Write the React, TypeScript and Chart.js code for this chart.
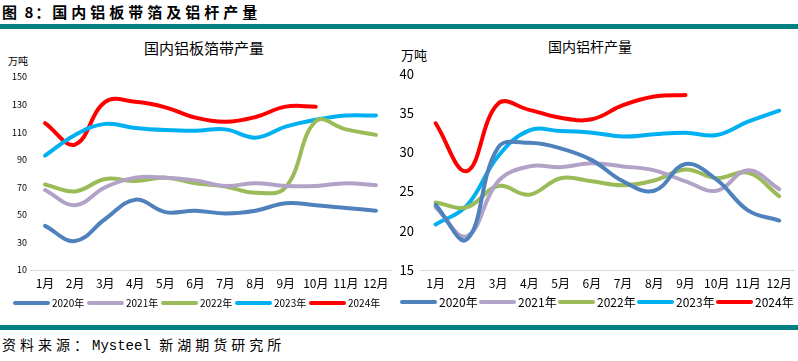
import React, { useEffect, useRef } from "react";
import { Chart, registerables } from "chart.js";

Chart.register(...registerables);

const months = ["1月", "2月", "3月", "4月", "5月", "6月", "7月", "8月", "9月", "10月", "11月", "12月"];
const seriesNames = ["2020年", "2021年", "2022年", "2023年", "2024年"];
const seriesColors = ["#4F81BD", "#B3A2C7", "#9BBB59", "#00B0F0", "#FF0000"];

// 国内铝板箔带产量 (万吨)
const sheet2020 = [42, 31, 47, 61, 52, 53, 51, 53, 58.5, 57, 55, 53];
const sheet2021 = [68, 57, 70, 77, 77, 75, 71, 73, 71, 71, 73, 71.5];
const sheet2022 = [72, 67, 76, 74.5, 77, 73, 70.5, 66, 70, 118, 112, 108];
const sheet2023 = [93, 108, 116, 113, 111.5, 111, 112, 106, 114, 119, 122, 122];
const sheet2024 = [116.5, 101, 132, 132, 128, 120.5, 117.5, 121, 128.5, 128.5, null, null];

// 国内铝杆产量 (万吨)
const rod2020 = [23.3, 18.9, 30.6, 31.2, 30.5, 29, 26.3, 25.1, 28.5, 26.5, 22.6, 21.3];
const rod2021 = [23, 19.3, 26.3, 28.2, 28.1, 28.6, 28.2, 27.7, 26.3, 25.1, 27.7, 25.3];
const rod2022 = [23.6, 23, 25.7, 24.6, 26.7, 26.3, 25.8, 26.4, 27.8, 26.7, 27.4, 24.4];
const rod2023 = [20.8, 23.2, 29.5, 32.8, 32.7, 32.5, 32, 32.3, 32.5, 32.2, 33.9, 35.3];
const rod2024 = [33.7, 27.6, 36.2, 35.4, 34.4, 34.2, 36, 37.1, 37.3, null, null, null];

const sheetSeries = [sheet2020, sheet2021, sheet2022, sheet2023, sheet2024];
const rodSeries = [rod2020, rod2021, rod2022, rod2023, rod2024];

const cjk = '"Noto Sans CJK SC", "Noto Sans", sans-serif';

type Cfg = {
  series: (number | null)[][];
  min: number;
  max: number;
  step: number;
  yWidth: number;
  tickFont: number;
  tickPad: number;
  padTop: number;
  padRight: number;
  xFont: number;
};

function LineChart({ cfg, width, height }: { cfg: Cfg; width: number; height: number }) {
  const ref = useRef<HTMLCanvasElement | null>(null);
  useEffect(() => {
    if (!ref.current) return;
    const chart = new Chart(ref.current, {
      type: "line",
      data: {
        labels: months,
        datasets: cfg.series.map((d, i) => ({
          label: seriesNames[i],
          data: d,
          borderColor: seriesColors[i],
          backgroundColor: seriesColors[i],
          borderWidth: 4,
          pointRadius: 0,
          tension: 0.4,
          spanGaps: false,
          borderCapStyle: "round" as const,
        })),
      },
      options: {
        animation: false,
        responsive: false,
        maintainAspectRatio: false,
        layout: { padding: { top: cfg.padTop, right: cfg.padRight, left: 0, bottom: 0 } },
        plugins: { legend: { display: false }, title: { display: false }, tooltip: { enabled: false } },
        scales: {
          x: {
            offset: true,
            grid: { display: false, drawTicks: false },
            border: { display: true, color: "#D9D9D9", width: 1 },
            ticks: { color: "#000", font: { family: cjk, size: cfg.xFont }, padding: 6, maxRotation: 0, autoSkip: false },
            afterFit: (s: any) => { s.height = 30; },
          },
          y: {
            min: cfg.min,
            max: cfg.max,
            grid: { display: false, drawTicks: false },
            border: { display: false },
            ticks: {
              stepSize: cfg.step,
              color: "#000",
              font: { family: cjk, size: cfg.tickFont },
              padding: cfg.tickPad,
            },
            afterFit: (s: any) => { s.width = cfg.yWidth; },
          },
        },
      },
    });
    return () => chart.destroy();
  }, []);
  return <canvas ref={ref} width={width} height={height} style={{ width, height, display: "block" }} />;
}

function Legend({ left, top, lineW, gap, font, pitch }: { left: number; top: number; lineW: number; gap: number; font: number; pitch: number }) {
  return (
    <div style={{ position: "absolute", left, top, height: 14 }}>
      {seriesNames.map((n, i) => (
        <div key={n} style={{ position: "absolute", left: i * pitch, top: 0, display: "flex", alignItems: "center", whiteSpace: "nowrap" }}>
          <div style={{ width: lineW, height: 4, borderRadius: 2, background: seriesColors[i] }} />
          <span style={{ marginLeft: gap, fontFamily: cjk, fontSize: font, color: "#000", lineHeight: "14px" }}>{n}</span>
        </div>
      ))}
    </div>
  );
}

export default function App() {
  const sheetCfg: Cfg = { series: sheetSeries, min: 10, max: 150, step: 20, yWidth: 30, tickFont: 9, tickPad: 3, padTop: 17, padRight: 4, xFont: 12 };
  const rodCfg: Cfg = { series: rodSeries, min: 15, max: 40, step: 5, yWidth: 25, tickFont: 13, tickPad: 6, padTop: 8, padRight: 3, xFont: 12 };
  return (
    <div style={{ position: "absolute", left: 0, top: 0, width: 798, height: 361, background: "#fff", overflow: "hidden" }}>
      <div style={{ position: "absolute", left: 2, top: 2, fontFamily: cjk, fontWeight: 700, fontSize: 15, color: "#000", whiteSpace: "nowrap", lineHeight: "20px" }}>
        <span style={{ letterSpacing: 2 }}>图 8：</span>
        <span style={{ letterSpacing: 4 }}>国内铝板带箔及铝杆产量</span>
      </div>
      <div style={{ position: "absolute", left: 0, top: 24, width: 798, height: 5, background: "#008080" }} />

      <div style={{ position: "absolute", left: 0, top: 38, width: 400, textAlign: "center", fontFamily: cjk, fontSize: 15, color: "#000", lineHeight: "20px", paddingLeft: 8, boxSizing: "border-box" }}>
        国内铝板箔带产量
      </div>
      <div style={{ position: "absolute", left: 8, top: 54, fontFamily: cjk, fontSize: 10, color: "#000", lineHeight: "14px" }}>万吨</div>
      <div style={{ position: "absolute", left: 0, top: 60 }}>
        <LineChart cfg={sheetCfg} width={395} height={240} />
      </div>
      <Legend left={13} top={296} lineW={37} gap={2} font={10} pitch={74} />

      <div style={{ position: "absolute", left: 400, top: 36, width: 380, textAlign: "center", fontFamily: cjk, fontSize: 14, color: "#000", lineHeight: "20px" }}>
        国内铝杆产量
      </div>
      <div style={{ position: "absolute", left: 401, top: 46, fontFamily: cjk, fontSize: 13, color: "#000", lineHeight: "18px" }}>万吨</div>
      <div style={{ position: "absolute", left: 395, top: 60 }}>
        <LineChart cfg={rodCfg} width={403} height={240} />
      </div>
      <Legend left={400} top={295} lineW={37} gap={2} font={12} pitch={79} />

      <div style={{ position: "absolute", left: 0, top: 325, width: 798, height: 5, background: "#008080" }} />
      <div style={{ position: "absolute", left: 2, top: 334, fontSize: 14, color: "#000", whiteSpace: "nowrap", lineHeight: "20px" }}>
        <span style={{ fontFamily: cjk, letterSpacing: 4 }}>资料来源：</span>
        <span style={{ fontFamily: '"Liberation Mono", "DejaVu Sans Mono", monospace' }}>Mysteel </span>
        <span style={{ fontFamily: cjk, letterSpacing: 4 }}>新湖期货研究所</span>
      </div>
    </div>
  );
}
